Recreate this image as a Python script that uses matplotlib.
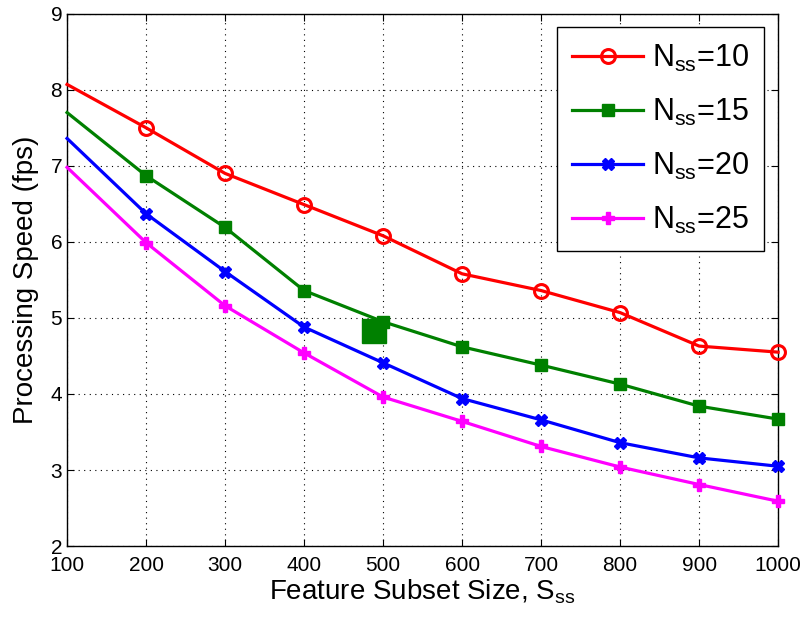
import matplotlib
matplotlib.use("Agg")
import matplotlib.pyplot as plt

# --- Data ---
subset_size = [100, 200, 300, 400, 500, 600, 700, 800, 900, 1000]
speed_n10 = [8.07, 7.50, 6.90, 6.49, 6.08, 5.58, 5.36, 5.07, 4.63, 4.55]
speed_n15 = [7.70, 6.87, 6.19, 5.36, 4.95, 4.62, 4.38, 4.13, 3.84, 3.67]
speed_n20 = [7.36, 6.37, 5.61, 4.88, 4.41, 3.94, 3.66, 3.36, 3.16, 3.05]
speed_n25 = [6.98, 5.99, 5.16, 4.54, 3.96, 3.64, 3.31, 3.04, 2.81, 2.59]
labels = ["10", "15", "20", "25"]
# stray oversized marker near the 500 point of the N=15 curve
stray_x = [488]
stray_y = [4.83]
# -------------------------------------

plt.rcParams["font.family"] = ["Liberation Sans", "DejaVu Sans"]
plt.rcParams["mathtext.fontset"] = "custom"
plt.rcParams["mathtext.rm"] = "Liberation Sans"
plt.rcParams["mathtext.it"] = "Liberation Sans"

fig = plt.figure(figsize=(8.08, 6.22), dpi=100)
ax = fig.add_axes([0.083, 0.122, 0.88, 0.856])

styles = [
    ("red", "o", 10, speed_n10),
    ("green", "s", 9, speed_n15),
    ("blue", "X", 8, speed_n20),
    ("magenta", "P", 8, speed_n25),
]
for (color, marker, ms, ys), lab in zip(styles, labels):
    mfc = "none" if marker == "o" else color
    ax.plot(subset_size, ys, color=color, lw=2.3, marker=marker, ms=ms,
            mfc=mfc, mec=color, mew=2.2 if marker == "o" else 1,
            markevery=list(range(1, len(subset_size))),
            label=r"N$_{\mathrm{ss}}$=" + lab, clip_on=False, zorder=3)

ax.plot(stray_x, stray_y, color="green", marker="s", ms=17, ls="none", zorder=3)

ax.set_xlim(100, 1000)
ax.set_ylim(2, 9)
ax.set_xticks(subset_size)
ax.set_yticks(range(2, 10))
ax.tick_params(direction="in", top=True, right=True, labelsize=15, length=5)
ax.tick_params(axis="x", pad=7)
ax.grid(True, color="black", linestyle=(0, (1, 4)), linewidth=0.8)
for s in ax.spines.values():
    s.set_linewidth(1.0)

ax.set_xlabel(r"Feature Subset Size, S$_{\mathrm{ss}}$", fontsize=20, labelpad=2)
ax.set_ylabel("Processing Speed (fps)", fontsize=20, labelpad=8)

leg = ax.legend(loc="upper right", fontsize=22, handlelength=2.3,
                borderaxespad=0.45, labelspacing=0.75, handletextpad=0.3,
                borderpad=0.5, fancybox=False, framealpha=1)
leg.get_frame().set_edgecolor("black")
leg.get_frame().set_linewidth(1.0)

fig.savefig("out.png", dpi=100)
